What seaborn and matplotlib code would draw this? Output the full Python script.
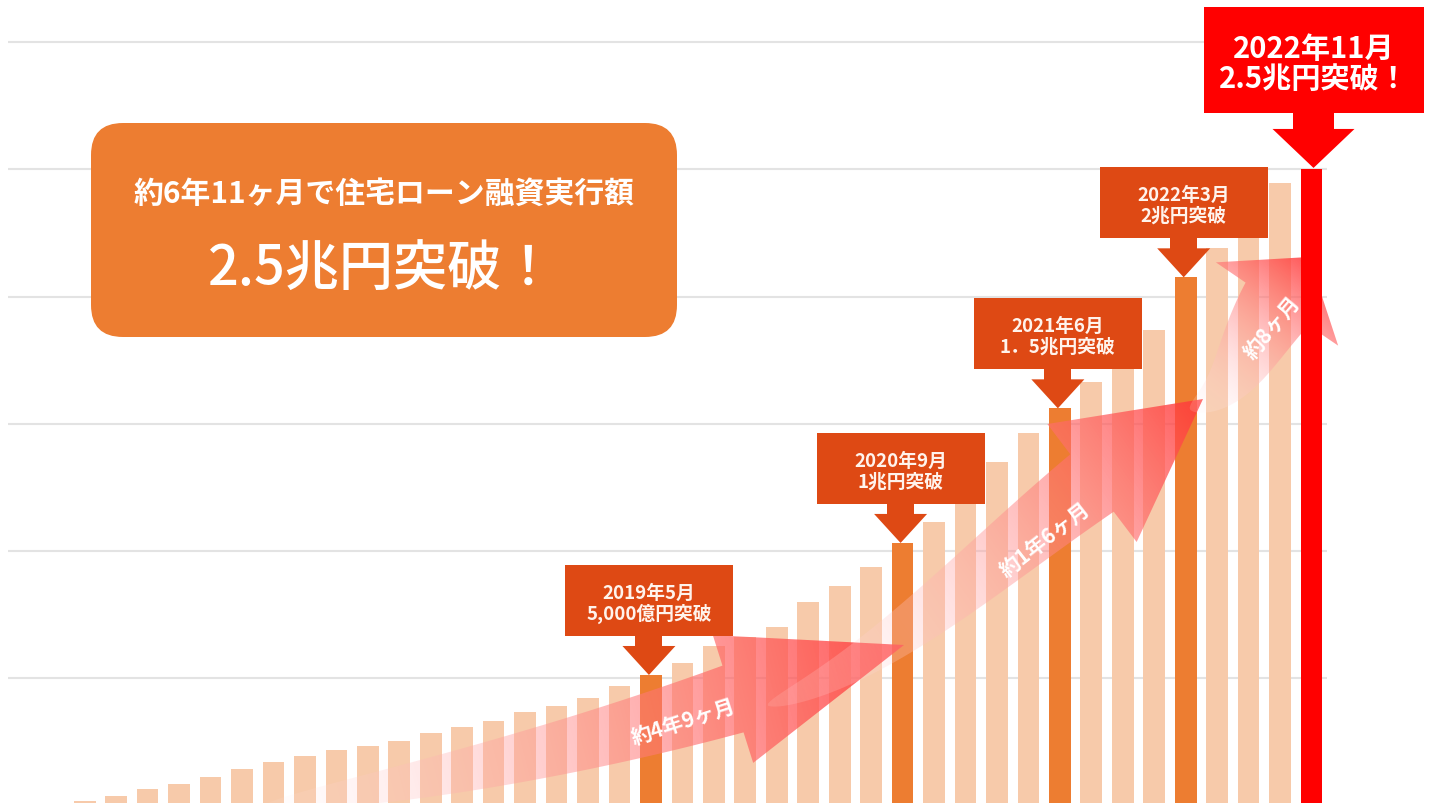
import numpy as np
import matplotlib
matplotlib.use("Agg")
import matplotlib.pyplot as plt
import matplotlib.transforms as mtransforms
from matplotlib.patches import FancyBboxPatch, Polygon, Rectangle
import seaborn as sns

# canvas size in pixels
W, H = 1429, 804

# cumulative housing-loan execution amount, 兆円
bar_pos = list(range(40))
loan_total = [0.017, 0.039, 0.064, 0.085, 0.112, 0.143, 0.170, 0.196, 0.218, 0.233,
              0.255, 0.285, 0.307, 0.333, 0.366, 0.392, 0.423, 0.471, 0.513, 0.560,
              0.626, 0.662, 0.703, 0.799, 0.861, 0.936, 1.032, 1.116, 1.230, 1.351,
              1.463, 1.561, 1.664, 1.760, 1.869, 2.076, 2.191, 2.270, 2.446, 2.502]

milestone_idx = [18, 26, 31, 35]
milestone_line1 = ["2019年5月", "2020年9月", "2021年6月", "2022年3月"]
milestone_line2 = ["5,000億円突破", "1兆円突破", "1．5兆円突破", "2兆円突破"]
goal_idx = 39
goal_line1 = "2022年11月"
goal_line2 = "2.5兆円突破！"

span_labels = ["約4年9ヶ月", "約1年6ヶ月", "約8ヶ月"]
title_line1 = "約6年11ヶ月で住宅ローン融資実行額"
title_line2 = "2.5兆円突破！"

grid_vals = [0.5, 1.0, 1.5, 2.0, 2.5, 3.0]

bar_kind = ["base"] * len(bar_pos)
for i in milestone_idx:
    bar_kind[i] = "milestone"
bar_kind[goal_idx] = "goal"

PALE = "#F7CAAA"
ORANGE = "#ED7D31"
DARK = "#DE4914"
RED = "#FF0000"
palette = {"base": PALE, "milestone": ORANGE, "goal": RED}

sns.set_style("white")
plt.rcParams["font.family"] = ["Noto Sans CJK JP", "DejaVu Sans"]

fig = plt.figure(figsize=(W / 100, H / 100), dpi=100, facecolor="white")
ax = fig.add_axes([0, 0, 1, 1])

sns.barplot(x=bar_pos, y=loan_total, hue=bar_kind, palette=palette, width=0.69,
            dodge=False, saturation=1, legend=False, linewidth=0, ax=ax)

# the goal bar sits above the sweeping arrows
for p in ax.patches:
    if np.allclose(p.get_facecolor()[:3], (1, 0, 0)):
        p.set_zorder(6)

# bar 0 at px 84.7, 31.456 px per bar; value 0 at px 806.5, 254.4 px per 兆円
XLIM = (-2.693, 42.735)
YLIM = (0.0098, 3.170)
GRID_X = (-2.438, 39.49)

# pixel transform, origin top-left, y downwards
pix = mtransforms.Affine2D().scale(1, -1).translate(0, H)


def bezier(p0, p1, p2, p3, t):
    t = t[:, None]
    pts = (1 - t) ** 3 * p0 + 3 * (1 - t) ** 2 * t * p1 + 3 * (1 - t) * t ** 2 * p2 + t ** 3 * p3
    der = 3 * (1 - t) ** 2 * (p1 - p0) + 6 * (1 - t) * t * (p2 - p1) + 3 * t ** 2 * (p3 - p2)
    return pts, der


def sweep_arrow(tail, c1, base, tip, half_head, w_base, k, a0, gam, text, text_xy, rot):
    tail, c1, base, tip = map(np.array, (tail, c1, base, tip))
    u = (tip - base) / np.linalg.norm(tip - base)
    n = np.array([-u[1], u[0]])
    c2 = base - k * u
    t = np.linspace(0, 1, 160)
    pts, der = bezier(tail, c1, c2, base, t)
    der = der / np.linalg.norm(der, axis=1)[:, None]
    nor = np.column_stack([-der[:, 1], der[:, 0]])
    w = np.maximum(w_base * t ** 0.55, 2)[:, None] / 2
    left = pts + nor * w
    right = pts - nor * w
    poly = np.vstack([left, base + n * half_head, tip, base - n * half_head, right[::-1]])
    shape = Polygon(poly, closed=True, transform=pix, facecolor="none", edgecolor="none")

    x0, y0 = np.floor(poly.min(axis=0)) - 2
    x1, y1 = np.ceil(poly.max(axis=0)) + 2
    X, Y = np.meshgrid(np.arange(x0, x1), np.arange(y0, y1))
    g = tip - tail
    s = ((X - tail[0]) * g[0] + (Y - tail[1]) * g[1]) / (g @ g)
    s = np.clip(s, 0, 1) ** gam
    rgba = np.zeros(X.shape + (4,))
    rgba[..., 0] = 1.0
    rgba[..., 1] = 0.97 - 0.75 * s
    rgba[..., 2] = 0.97 - 0.75 * s
    rgba[..., 3] = a0 + (0.86 - a0) * s
    im = ax.imshow(rgba, extent=(x0, x1, y1, y0), origin="upper", transform=pix,
                   aspect="auto", interpolation="bilinear", zorder=4)
    im.set_clip_path(shape)
    ax.text(text_xy[0], text_xy[1], text, transform=pix, rotation=rot, rotation_mode="anchor",
            ha="center", va="center", color="white", fontsize=15, fontweight="bold", zorder=5)


sweep_arrow((262, 808), (430, 783), (733, 700), (904, 646), 67, 70, 150, 0.05, 0.8,
            span_labels[0], (683, 722), 18)
sweep_arrow((768, 706), (880, 668), (1092, 484), (1203, 400), 74, 72, 140, 0.12, 1.1,
            span_labels[1], (1045, 540), 38)
sweep_arrow((1190, 410), (1236, 392), (1277, 305), (1309, 258), 74, 76, 60, 0.15, 1.0,
            span_labels[2], (1272, 328), 50)

ax.set_xlim(*XLIM)
ax.set_ylim(*YLIM)
ax.hlines(grid_vals, *GRID_X, color="#E3E3E3", linewidth=1.5, zorder=0)
ax.grid(False)
ax.tick_params(length=0, labelleft=False, labelbottom=False)
ax.set_xlabel("")
ax.set_ylabel("")
sns.despine(ax=ax, left=True, bottom=True)


def bar_top(i):
    x, y = ax.transData.transform((bar_pos[i], loan_total[i]))
    return x, H - y


# milestone callouts
for i, l1, l2 in zip(milestone_idx, milestone_line1, milestone_line2):
    bx, by = bar_top(i)
    bx -= 2
    head = Polygon([(bx - 26.5, by - 29), (bx + 26.5, by - 29), (bx, by)], closed=True,
                   transform=pix, facecolor=DARK, edgecolor="none", zorder=7)
    stem = Rectangle((bx - 13.5, by - 40), 27, 12, transform=pix, facecolor=DARK,
                     edgecolor="none", zorder=7)
    box = Rectangle((bx - 84, by - 110), 168, 71, transform=pix, facecolor=DARK,
                    edgecolor="none", zorder=7)
    for p in (head, stem, box):
        ax.add_patch(p)
    ax.text(bx, by - 83, l1, transform=pix, ha="center", va="center", color="#FFF3EC",
            fontsize=13.5, fontweight="bold", zorder=8)
    ax.text(bx, by - 62, l2, transform=pix, ha="center", va="center", color="#FFF3EC",
            fontsize=13.5, fontweight="bold", zorder=8)

# goal callout
gx, gy = bar_top(goal_idx)
gx += 2
for p in (Polygon([(gx - 41, gy - 40), (gx + 41, gy - 40), (gx, gy - 1)], closed=True),
          Rectangle((gx - 20.5, gy - 57), 41, 18),
          Rectangle((gx - 110, gy - 162), 220, 106)):
    p.set_transform(pix)
    p.set_facecolor(RED)
    p.set_edgecolor("none")
    p.set_zorder(7)
    ax.add_patch(p)
ax.text(gx, gy - 121, goal_line1, transform=pix, ha="center", va="center", color="white",
        fontsize=21, fontweight="bold", zorder=8)
ax.text(gx, gy - 91, goal_line2, transform=pix, ha="center", va="center", color="white",
        fontsize=21, fontweight="bold", zorder=8)

# headline box
title_box = FancyBboxPatch((91, 124), 586, 214, boxstyle="round,pad=0,rounding_size=32",
                           transform=pix, facecolor=ORANGE, edgecolor="none", zorder=7)
ax.add_patch(title_box)
ax.text(384, 194, title_line1, transform=pix, ha="center", va="center", color="white",
        fontsize=21.5, fontweight="bold", zorder=8)
ax.text(382, 270, title_line2, transform=pix, ha="center", va="center", color="white",
        fontsize=39, fontweight="medium", zorder=8)

ax.set_xlim(*XLIM)
ax.set_ylim(*YLIM)

fig.savefig("out.png", dpi=100, facecolor="white")
